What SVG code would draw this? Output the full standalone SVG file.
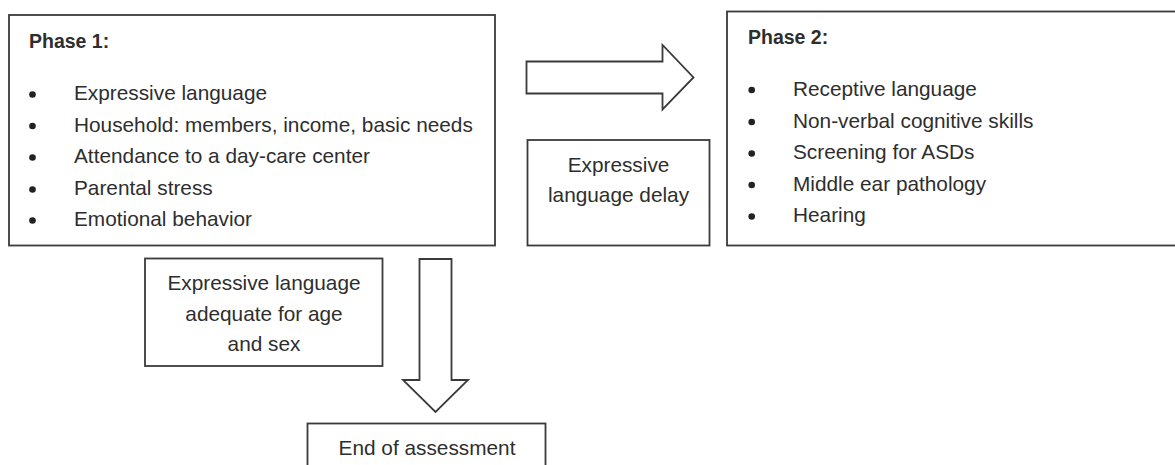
<svg xmlns="http://www.w3.org/2000/svg" width="1175" height="465" viewBox="0 0 1175 465">
<style>
.box{fill:#fff;stroke:#3a3a3a;stroke-width:1.8}
.arrow{fill:#fff;stroke:#3a3a3a;stroke-width:1.8;stroke-linejoin:miter}
text{font-family:"Liberation Sans",Arial,sans-serif;font-size:20.8px;fill:#2e2e2e}
.h{font-weight:bold;font-size:19.5px}
.c{text-anchor:middle}
.dot{fill:#222}
</style>
<g id="connectors">
<path class="arrow" d="M526.5,61.5 H662.5 V45 L693.5,77.5 L662.5,109.5 V93.5 H526.5 Z"/>
<path class="arrow" d="M419.5,259 H451.5 V380 H468 L435.5,412 L403,380 H419.5 Z"/>
</g>
<g id="phase1">
<rect class="box" x="9" y="15" width="486" height="230.5"/>
<text class="h" x="29" y="48">Phase 1:</text>
<circle class="dot" cx="32.5" cy="94.5" r="3.3"/>
<circle class="dot" cx="32.5" cy="126" r="3.3"/>
<circle class="dot" cx="32.5" cy="157.5" r="3.3"/>
<circle class="dot" cx="32.5" cy="189.5" r="3.3"/>
<circle class="dot" cx="32.5" cy="220.5" r="3.3"/>
<text x="74" y="100">Expressive language</text>
<text x="74" y="131.5">Household: members, income, basic needs</text>
<text x="74" y="163">Attendance to a day-care center</text>
<text x="74" y="195">Parental stress</text>
<text x="74" y="226">Emotional behavior</text>
</g>
<g id="phase2">
<rect class="box" x="727" y="11.5" width="460" height="234"/>
<text class="h" x="748" y="44">Phase 2:</text>
<circle class="dot" cx="751.7" cy="90" r="3.3"/>
<circle class="dot" cx="751.7" cy="122" r="3.3"/>
<circle class="dot" cx="751.7" cy="153.5" r="3.3"/>
<circle class="dot" cx="751.7" cy="185" r="3.3"/>
<circle class="dot" cx="751.7" cy="216.5" r="3.3"/>
<text x="793" y="95.5">Receptive language</text>
<text x="793" y="127.5">Non-verbal cognitive skills</text>
<text x="793" y="159">Screening for ASDs</text>
<text x="793" y="191">Middle ear pathology</text>
<text x="793" y="222">Hearing</text>
</g>
<g id="delay">
<rect class="box" x="527.5" y="140" width="182" height="105.5"/>
<text class="c" x="618.5" y="171.5">Expressive</text>
<text class="c" x="618.5" y="201.5">language delay</text>
</g>
<g id="adequate">
<rect class="box" x="145" y="258.5" width="237.5" height="107.5"/>
<text class="c" x="264" y="290">Expressive language</text>
<text class="c" x="264" y="321">adequate for age</text>
<text class="c" x="264" y="351">and sex</text>
</g>
<g id="end">
<rect class="box" x="307.5" y="423.5" width="238" height="60"/>
<text class="c" x="427" y="455">End of assessment</text>
</g>
</svg>
